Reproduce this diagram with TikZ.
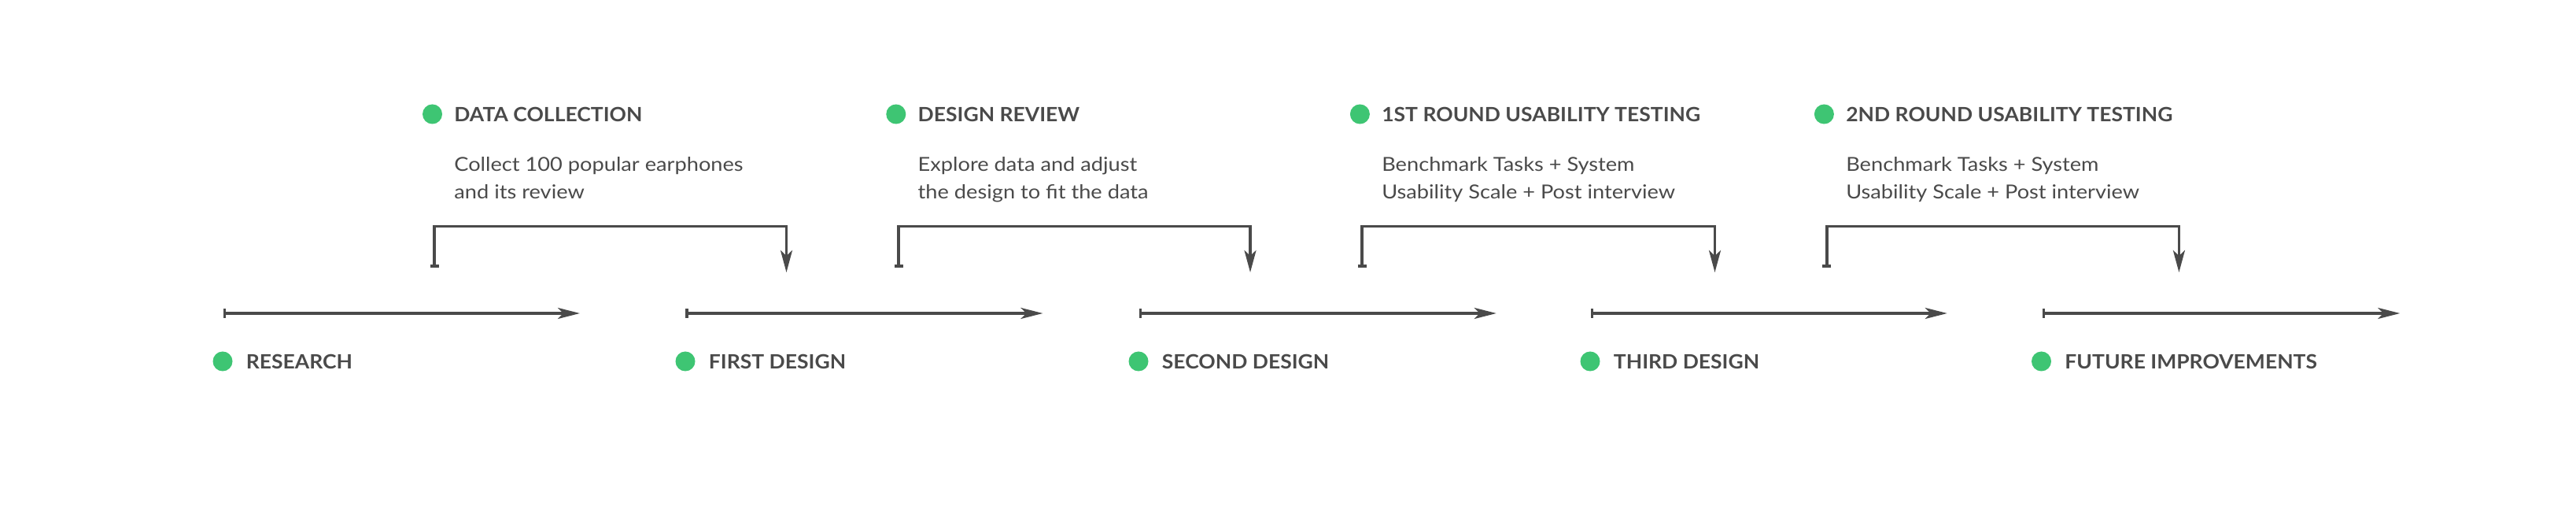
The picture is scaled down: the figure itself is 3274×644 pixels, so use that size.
\documentclass[tikz,border=0pt]{standalone}
\usepackage{fontspec}
\setmainfont{Lato}
\newfontfamily\headfont{Lato}[FakeStretch=1.06]
\newfontfamily\descfont{Lato}[FakeStretch=1.11]
\usetikzlibrary{arrows.meta, positioning}
\definecolor{dotgreen}{HTML}{3EC573}
\definecolor{inkgray}{HTML}{4A4A4A}
\tikzset{
  stagedot/.style={circle, fill=dotgreen, minimum size=25pt, inner sep=0pt},
  stagelabel/.style={inner sep=0pt, text=inkgray, font=\headfont\fontsize{25}{30}\selectfont\bfseries},
  stagetext/.style={inner sep=0pt, text=inkgray, align=left, anchor=base west, font=\descfont\fontsize{24.5}{35}\selectfont},
  timeline/.style={inkgray, line width=3.5pt, {Bar[width=12pt]}-{Stealth[length=28pt,width=14pt,inset=7pt]}},
  loopback/.style={inkgray, line width=3.5pt, {Bar[width=11pt]}-{Stealth[length=28pt,width=15pt,inset=7pt]}}
}

\begin{document}
\begin{tikzpicture}[x=1pt,y=1pt]
  \useasboundingbox[fill=white] (0,0) rectangle (3274,644);

  % design stages along the bottom
  \node[stagedot] at (283,185)(sdot1){};
  \node[stagedot] at (871,185)(sdot2){};
  \node[stagedot] at (1447,185)(sdot3){};
  \node[stagedot] at (2021,185)(sdot4){};
  \node[stagedot] at (2594.5,185)(sdot5){};
  \node[stagelabel,right=17pt of sdot1](slab1){RESEARCH};
  \node[stagelabel,right=17pt of sdot2](slab2){FIRST DESIGN};
  \node[stagelabel,right=17pt of sdot3](slab3){SECOND DESIGN};
  \node[stagelabel,right=17pt of sdot4](slab4){THIRD DESIGN};
  \node[stagelabel,right=17pt of sdot5](slab5){FUTURE IMPROVEMENTS};

  % timeline segments
  \coordinate (s1) at (283.7,246);  \coordinate (e1) at (737,246);
  \coordinate (s2) at (871,246);    \coordinate (e2) at (1325.4,246);
  \coordinate (s3) at (1447.8,246); \coordinate (e3) at (1901.8,246);
  \coordinate (s4) at (2021.9,246); \coordinate (e4) at (2474.8,246);
  \coordinate (s5) at (2595.7,246); \coordinate (e5) at (3050.3,246);
  \draw[timeline] (s1) -- (e1);
  \draw[timeline] (s2) -- (e2);
  \draw[timeline] (s3) -- (e3);
  \draw[timeline] (s4) -- (e4);
  \draw[timeline] (s5) -- (e5);

  % reviews and tests on top
  \node[stagedot] at (549.5,499)(rdot1){};
  \node[stagedot] at (1138.8,499)(rdot2){};
  \node[stagedot] at (1728.4,499)(rdot3){};
  \node[stagedot] at (2318.4,499)(rdot4){};
  \node[stagelabel,right=15pt of rdot1](rlab1){DATA COLLECTION};
  \node[stagelabel,right=15pt of rdot2](rlab2){DESIGN REVIEW};
  \node[stagelabel,right=15pt of rdot3](rlab3){1ST ROUND USABILITY TESTING};
  \node[stagelabel,right=15pt of rdot4](rlab4){2ND ROUND USABILITY TESTING};
  \node[stagetext] at (rlab1.west |- 0,391)(rtext1){Collect 100 popular earphones\\and its review};
  \node[stagetext] at (rlab2.west |- 0,391)(rtext2){Explore data and adjust\\the design to fit the data};
  \node[stagetext] at (rlab3.west |- 0,391)(rtext3){Benchmark Tasks + System\\Usability Scale + Post interview};
  \node[stagetext] at (rlab4.west |- 0,391)(rtext4){Benchmark Tasks + System\\Usability Scale + Post interview};

  % brackets feeding into the next design
  \coordinate (u1) at (552,304);    \coordinate (d1) at (999.5,298);
  \coordinate (u2) at (1142,304);   \coordinate (d2) at (1589,298);
  \coordinate (u3) at (1731.2,304); \coordinate (d3) at (2179.5,298);
  \coordinate (u4) at (2321.9,304); \coordinate (d4) at (2769.4,298);
  \draw[loopback] (u1) -- ++(0,52.3) -| (d1);
  \draw[loopback] (u2) -- ++(0,52.3) -| (d2);
  \draw[loopback] (u3) -- ++(0,52.3) -| (d3);
  \draw[loopback] (u4) -- ++(0,52.3) -| (d4);
\end{tikzpicture}
\end{document}
